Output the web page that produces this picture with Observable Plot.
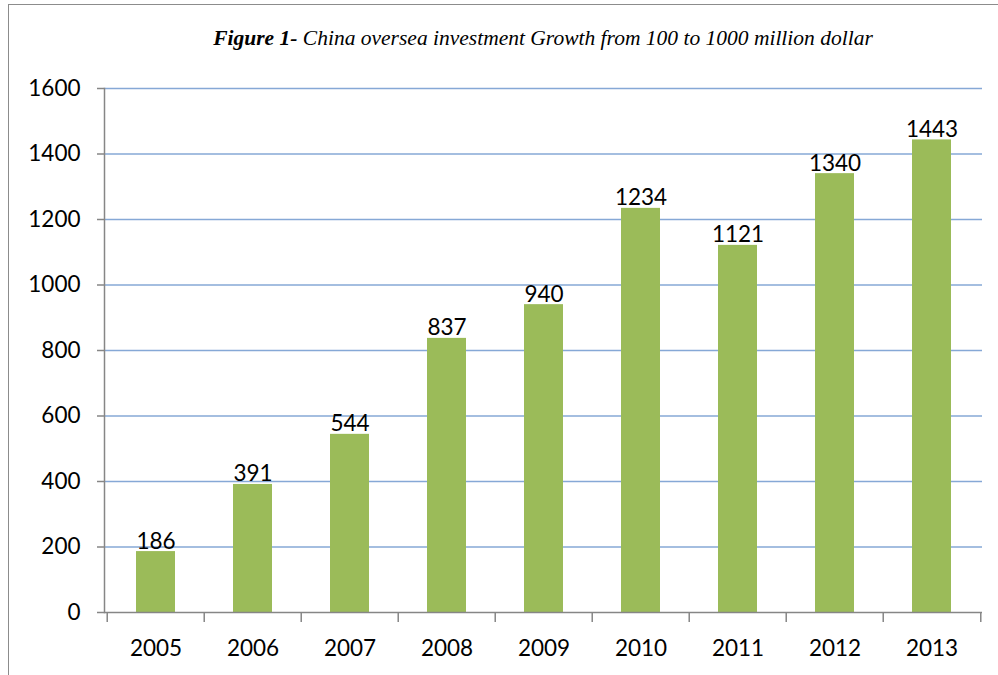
<!DOCTYPE html>
<html>
<head>
<meta charset="utf-8">
<script src="https://cdn.jsdelivr.net/npm/d3@7"></script>
<script src="https://cdn.jsdelivr.net/npm/@observablehq/plot@0.6"></script>
<style>
  html, body { margin: 0; padding: 0; background: #fff; }
  #wrap { position: relative; width: 998px; height: 675px; overflow: hidden; background: #fff; }
  #frame { position: absolute; left: 8px; top: 4px; width: 1100px; height: 800px; border: 1.5px solid #8c8c8c; box-sizing: border-box; }
  #title { position: absolute; left: 104px; width: 878px; top: 26px; height: 24px; line-height: 24px; text-align: center;
           font-family: "Liberation Serif", "DejaVu Serif", serif; font-style: italic; font-size: 21.5px; color: #000; white-space: nowrap; }
  #title b { font-weight: bold; }
  #chart { position: absolute; left: 0; top: 60px; }
</style>
</head>
<body>
<div id="wrap">
  <div id="frame"></div>
  <div id="title"><b>Figure 1-</b> China oversea investment Growth from 100 to 1000 million dollar</div>
  <div id="chart"></div>
</div>
<script>
const years = ["2005", "2006", "2007", "2008", "2009", "2010", "2011", "2012", "2013"];
const values = [186, 391, 544, 837, 940, 1234, 1121, 1340, 1443];
const yTicks = [0, 200, 400, 600, 800, 1000, 1200, 1400, 1600];

const data = years.map((y, i) => ({year: y, value: values[i]}));

const W = 998, H = 615;
const mL = 104, mR = 16, mT = 28, mB = 63;
const step = (W - mL - mR) / years.length;
const font = "Lato, 'Open Sans', sans-serif";

const plot = Plot.plot({
  width: W,
  height: H,
  marginLeft: mL,
  marginRight: mR,
  marginTop: mT,
  marginBottom: mB,
  style: {fontFamily: font, fontSize: "22px", color: "#000", background: "transparent"},
  x: {domain: years, paddingInner: 0.6, paddingOuter: 0.3, axis: null},
  y: {domain: [0, 1600], axis: null},
  marks: [
    Plot.ruleY(yTicks.slice(1), {stroke: "#86a8d6", strokeWidth: 1.5}),
    Plot.barY(data, {x: "year", y: "value", fill: "#9bbb59"}),
    Plot.text(data, {x: "year", y: "value", text: d => String(d.value), lineAnchor: "bottom", dy: -3, fontSize: 22.5, fill: "#000"}),
    Plot.ruleY([0], {stroke: "#868686", strokeWidth: 1.5}),
    Plot.axisY(yTicks, {tickSize: 7, tickPadding: 17, tickFormat: d => String(d), stroke: "#868686", strokeWidth: 1.5, fontSize: 22.5, fill: "#000", label: null}),
    Plot.frame({anchor: "left", stroke: "#868686", strokeWidth: 1.5}),
    Plot.axisX(years, {tickSize: 10, tickFormat: () => "", dx: -step / 2, stroke: "#868686", strokeWidth: 1.5, label: null}),
    Plot.axisX([years[years.length - 1]], {tickSize: 10, tickFormat: () => "", dx: step / 2, stroke: "#868686", strokeWidth: 1.5, label: null}),
    Plot.axisX(years, {tickSize: 0, tickPadding: 28, fontSize: 22.5, fill: "#000", label: null})
  ]
});
document.getElementById("chart").appendChild(plot);
</script>
</body>
</html>
